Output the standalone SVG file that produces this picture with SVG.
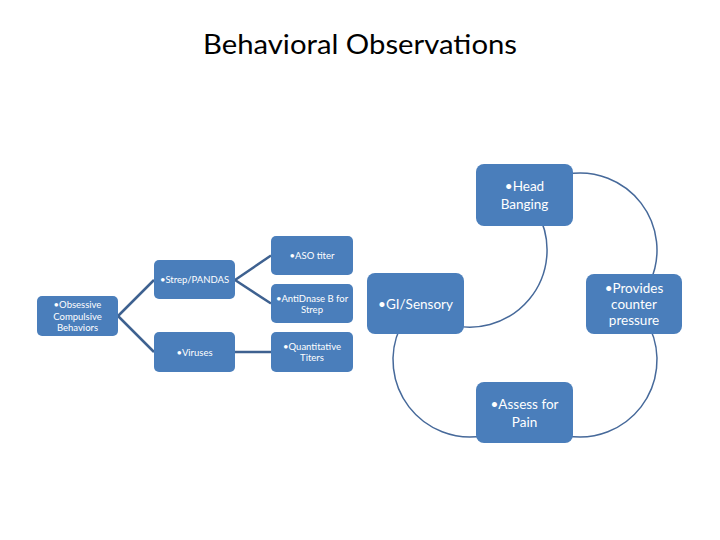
<svg xmlns="http://www.w3.org/2000/svg" width="720" height="540" viewBox="0 0 720 540">
  <style>
    .box { fill: #4A7EBB; }
    .t { fill: #FFFFFF; font-family: Lato, "Liberation Sans", sans-serif; text-anchor: middle; }
    .s { font-size: 9.5px; }
    .l { font-size: 13.5px; }
    .tree { stroke: #3E6190; stroke-width: 2.5; fill: none; }
    .arc { stroke: #46699A; stroke-width: 1.5; fill: none; }
    .title { fill: #000000; font-family: Lato, "Liberation Sans", sans-serif; font-size: 27px; text-anchor: middle; }
  </style>
  <rect width="720" height="540" fill="#FFFFFF"/>
  <text class="title" x="360" y="54" textLength="314" lengthAdjust="spacingAndGlyphs">Behavioral Observations</text>

  <g id="connectors">
    <line class="tree" x1="118" y1="316" x2="154" y2="280"/>
    <line class="tree" x1="118" y1="316" x2="154" y2="352"/>
    <line class="tree" x1="235" y1="280" x2="271" y2="255.5"/>
    <line class="tree" x1="235" y1="280" x2="271" y2="303.5"/>
    <line class="tree" x1="235" y1="352" x2="271" y2="352"/>
    <path class="arc" d="M 566.6 174.2 A 77 77 0 0 1 649.8 282.5"/>
    <path class="arc" d="M 649.8 327.5 A 77 77 0 0 1 566.6 435.8"/>
    <path class="arc" d="M 483.4 435.8 A 77 77 0 0 1 400.2 327.5"/>
    <path class="arc" d="M 536.7 211.5 A 77 77 0 0 1 443.7 322.4"/>
  </g>

  <g id="obsessive">
    <rect class="box" x="37" y="296" width="81" height="40" rx="5"/>
    <text class="t s" x="77.5" y="308">•Obsessive</text>
    <text class="t s" x="77.5" y="319.5">Compulsive</text>
    <text class="t s" x="77.5" y="331">Behaviors</text>
  </g>
  <g id="strep">
    <rect class="box" x="154" y="260" width="81" height="39" rx="5"/>
    <text class="t s" x="194.5" y="283">•Strep/PANDAS</text>
  </g>
  <g id="viruses">
    <rect class="box" x="154" y="332" width="81" height="40" rx="5"/>
    <text class="t s" x="194.5" y="355.5">•Viruses</text>
  </g>
  <g id="aso">
    <rect class="box" x="271" y="236" width="82" height="39" rx="5"/>
    <text class="t s" x="312" y="258.5">•ASO titer</text>
  </g>
  <g id="antidnase">
    <rect class="box" x="271" y="284" width="82" height="39" rx="5"/>
    <text class="t s" x="312" y="302">•AntiDnase B for</text>
    <text class="t s" x="312" y="313">Strep</text>
  </g>
  <g id="quantitative">
    <rect class="box" x="271" y="332" width="82" height="40" rx="5"/>
    <text class="t s" x="312" y="350">•Quantitative</text>
    <text class="t s" x="312" y="361">Titers</text>
  </g>

  <g id="head-banging">
    <rect class="box" x="476" y="164" width="97" height="62" rx="8"/>
    <text class="t l" x="524.5" y="191">•Head</text>
    <text class="t l" x="524.5" y="209">Banging</text>
  </g>
  <g id="provides">
    <rect class="box" x="586" y="274" width="96" height="60" rx="8"/>
    <text class="t l" x="634" y="293">•Provides</text>
    <text class="t l" x="634" y="309">counter</text>
    <text class="t l" x="634" y="325">pressure</text>
  </g>
  <g id="gi-sensory">
    <rect class="box" x="367" y="273" width="97" height="61" rx="8"/>
    <text class="t l" x="415.5" y="309">•GI/Sensory</text>
  </g>
  <g id="assess">
    <rect class="box" x="476" y="382" width="97" height="61" rx="8"/>
    <text class="t l" x="524.5" y="409">•Assess for</text>
    <text class="t l" x="524.5" y="427">Pain</text>
  </g>
</svg>
